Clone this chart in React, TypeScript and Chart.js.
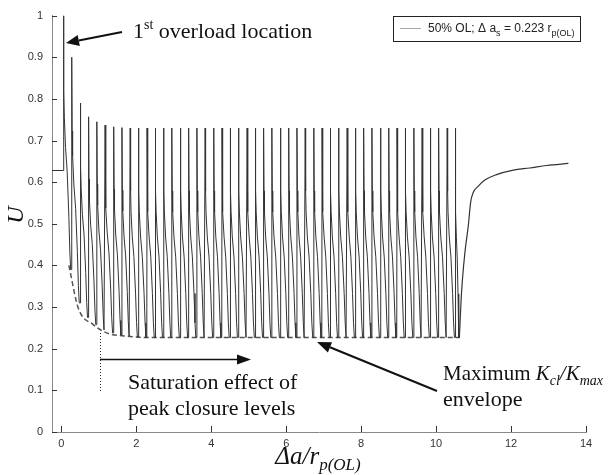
import { useEffect, useRef } from "react";
import { Chart, registerables } from "chart.js";

Chart.register(...registerables);

// ---- axis ticks ----
const xTicks = [0, 2, 4, 6, 8, 10, 12, 14];
const xTickLabels = ["0", "2", "4", "6", "8", "10", "12", "14"];
const yTicks = [0, 0.1, 0.2, 0.3, 0.4, 0.5, 0.6, 0.7, 0.8, 0.9, 1];
const yTickLabels = ["0", "0.1", "0.2", "0.3", "0.4", "0.5", "0.6", "0.7", "0.8", "0.9", "1"];

// ---- data ----
// before the first overload
const preOverloadX = [-0.25, 0.05];
const preOverloadU = [0.628, 0.628];

// overload positions (Δa/rp(OL)), spacing ≈ 0.223
const spikeX = [
  0.05, 0.27, 0.5, 0.72, 0.94, 1.16, 1.39, 1.61, 1.83, 2.05, 2.28, 2.5,
  2.72, 2.94, 3.17, 3.39, 3.61, 3.83, 4.06, 4.28, 4.5, 4.72, 4.95, 5.17,
  5.39, 5.61, 5.84, 6.06, 6.28, 6.5, 6.73, 6.95, 7.17, 7.39, 7.62, 7.84,
  8.06, 8.28, 8.51, 8.73, 8.95, 9.17, 9.4, 9.62, 9.84, 10.06, 10.29, 10.51,
];
// peak U after each overload
const spikePeakU = [
  1.0, 0.9, 0.79, 0.757, 0.745, 0.737, 0.733, 0.731, 0.73, 0.73, 0.73, 0.73,
  0.73, 0.73, 0.73, 0.73, 0.73, 0.73, 0.73, 0.73, 0.73, 0.73, 0.73, 0.73,
  0.73, 0.73, 0.73, 0.73, 0.73, 0.73, 0.73, 0.73, 0.73, 0.73, 0.73, 0.73,
  0.73, 0.73, 0.73, 0.73, 0.73, 0.73, 0.73, 0.73, 0.73, 0.73, 0.73, 0.73,
];
// minimum U reached before the next overload
const cycleTroughU = [
  0.39, 0.31, 0.275, 0.258, 0.245, 0.238, 0.233, 0.23, 0.228, 0.227, 0.227, 0.227,
  0.227, 0.227, 0.227, 0.227, 0.227, 0.227, 0.227, 0.227, 0.227, 0.227, 0.227, 0.227,
  0.227, 0.227, 0.227, 0.227, 0.227, 0.227, 0.227, 0.227, 0.227, 0.227, 0.227, 0.227,
  0.227, 0.227, 0.227, 0.227, 0.227, 0.227, 0.227, 0.227, 0.227, 0.227, 0.227, 0.226,
];
// decay shape inside one overload cycle (fraction of cycle length, fraction of peak-trough)
const cycleShapeT = [0.03, 0.08, 0.13, 0.28, 0.48, 0.68, 0.8, 0.9];
const cycleShapeF = [1.0, 0.7, 0.6, 0.48, 0.385, 0.21, 0.07, 0.0];

// recovery after the last overload
const recoveryX = [10.62, 10.68, 10.77, 10.86, 10.92, 10.99, 11.12, 11.3, 11.61, 12.06, 12.5, 12.95, 13.53];
const recoveryU = [0.226, 0.337, 0.432, 0.496, 0.551, 0.575, 0.59, 0.605, 0.618, 0.629, 0.634, 0.64, 0.645];

// maximum Kcl/Kmax envelope (dashed)
const envelopeX = [0.2, 0.45, 0.85, 1.21, 1.74, 2.3, 10.6];
const envelopeU = [0.4, 0.298, 0.258, 0.238, 0.23, 0.227, 0.227];

type Pt = { x: number; y: number };

function buildMain(): Pt[] {
  const pts: Pt[] = preOverloadX.map((x, i) => ({ x, y: preOverloadU[i] }));
  for (let k = 0; k < spikeX.length; k++) {
    const start = spikeX[k];
    const end = k < spikeX.length - 1 ? spikeX[k + 1] : recoveryX[0];
    const len = end - start;
    const peak = spikePeakU[k];
    const tr = cycleTroughU[k];
    for (let j = 0; j < cycleShapeT.length; j++) {
      pts.push({ x: start + cycleShapeT[j] * len, y: tr + cycleShapeF[j] * (peak - tr) });
    }
    if (k < spikeX.length - 1) pts.push({ x: end, y: tr });
    else pts.push({ x: recoveryX[0], y: recoveryU[0] });
  }
  return pts;
}

type Run = { t: string; font: string; dy?: number };
function drawRuns(ctx: CanvasRenderingContext2D, x: number, y: number, runs: Run[]) {
  let cx = x;
  for (const r of runs) {
    ctx.font = r.font;
    ctx.fillText(r.t, cx, y + (r.dy || 0));
    cx += ctx.measureText(r.t).width;
  }
  return cx;
}
function runsWidth(ctx: CanvasRenderingContext2D, runs: Run[]) {
  let w = 0;
  for (const r of runs) {
    ctx.font = r.font;
    w += ctx.measureText(r.t).width;
  }
  return w;
}

function arrow(ctx: CanvasRenderingContext2D, x1: number, y1: number, x2: number, y2: number, lw: number, hl: number, hw: number) {
  const a = Math.atan2(y2 - y1, x2 - x1);
  const bx = x2 - hl * Math.cos(a);
  const by = y2 - hl * Math.sin(a);
  ctx.strokeStyle = "#111";
  ctx.fillStyle = "#111";
  ctx.lineWidth = lw;
  ctx.setLineDash([]);
  ctx.beginPath();
  ctx.moveTo(x1, y1);
  ctx.lineTo(bx, by);
  ctx.stroke();
  ctx.beginPath();
  ctx.moveTo(x2, y2);
  ctx.lineTo(bx + hw * Math.sin(a), by - hw * Math.cos(a));
  ctx.lineTo(bx - hw * Math.sin(a), by + hw * Math.cos(a));
  ctx.closePath();
  ctx.fill();
}

const SERIF = "'Liberation Serif', 'DejaVu Serif', serif";
const SANS = "'Liberation Sans', Arial, sans-serif";

const decorPlugin = {
  id: "decor",
  afterDraw(chart: any) {
    const ctx: CanvasRenderingContext2D = chart.ctx;
    const xs = chart.scales.x;
    const ys = chart.scales.y;
    const area = chart.chartArea;
    ctx.save();
    // inward tick marks
    ctx.strokeStyle = "#333";
    ctx.lineWidth = 1;
    ctx.setLineDash([]);
    ctx.beginPath();
    for (const v of xTicks) {
      const px = Math.round(xs.getPixelForValue(v)) + 0.5;
      ctx.moveTo(px, area.bottom);
      ctx.lineTo(px, area.bottom - 6);
    }
    for (const v of yTicks) {
      const py = Math.round(ys.getPixelForValue(v)) + 0.5;
      ctx.moveTo(area.left, py);
      ctx.lineTo(area.left + 5, py);
    }
    ctx.stroke();

    // legend box
    ctx.fillStyle = "#fff";
    ctx.fillRect(393, 16, 187, 25);
    ctx.strokeStyle = "#222";
    ctx.lineWidth = 1;
    ctx.strokeRect(393.5, 16.5, 187, 25);
    ctx.strokeStyle = "#aaa";
    ctx.beginPath();
    ctx.moveTo(400, 28.5);
    ctx.lineTo(421, 28.5);
    ctx.stroke();
    ctx.fillStyle = "#222";
    ctx.textBaseline = "alphabetic";
    ctx.textAlign = "left";
    drawRuns(ctx, 428, 32, [
      { t: "50% OL; Δ a", font: `12px ${SANS}` },
      { t: "s", font: `9px ${SANS}`, dy: 4 },
      { t: " = 0.223 r", font: `12px ${SANS}` },
      { t: "p(OL)", font: `9px ${SANS}`, dy: 4 },
    ]);

    // annotations
    ctx.fillStyle = "#111";
    drawRuns(ctx, 133, 38, [
      { t: "1", font: `22px ${SERIF}` },
      { t: "st", font: `14px ${SERIF}`, dy: -9 },
      { t: " overload location", font: `22px ${SERIF}` },
    ]);
    arrow(ctx, 122, 32, 66, 43, 2, 13, 5.5);

    ctx.font = `22px ${SERIF}`;
    ctx.fillText("Saturation effect of", 128, 389);
    ctx.fillText("peak closure levels", 128, 415);
    arrow(ctx, 100, 359.5, 251, 359.5, 1.6, 14, 5);

    ctx.strokeStyle = "#222";
    ctx.lineWidth = 1;
    ctx.setLineDash([1, 2]);
    ctx.beginPath();
    ctx.moveTo(100.5, 333);
    ctx.lineTo(100.5, 391);
    ctx.stroke();
    ctx.setLineDash([]);

    ctx.fillStyle = "#111";
    drawRuns(ctx, 443, 380, [
      { t: "Maximum ", font: `21px ${SERIF}` },
      { t: "K", font: `italic 21px ${SERIF}` },
      { t: "cl", font: `italic 14px ${SERIF}`, dy: 5 },
      { t: "/", font: `italic 21px ${SERIF}` },
      { t: "K", font: `italic 21px ${SERIF}` },
      { t: "max", font: `italic 14px ${SERIF}`, dy: 5 },
    ]);
    ctx.font = `22px ${SERIF}`;
    ctx.fillText("envelope", 443, 406);
    arrow(ctx, 437, 391, 317, 342, 2, 14, 5.5);

    // axis titles
    const xt: Run[] = [
      { t: "Δa/r", font: `italic 25px ${SERIF}` },
      { t: "p(OL)", font: `italic 17px ${SERIF}`, dy: 6 },
    ];
    const w = runsWidth(ctx, xt);
    drawRuns(ctx, 318 - w / 2, 464, xt);

    ctx.translate(23, 215);
    ctx.rotate(-Math.PI / 2);
    ctx.font = `italic 24px ${SERIF}`;
    ctx.textAlign = "center";
    ctx.fillText("U", 0, 0);
    ctx.restore();
  },
};

export default function App() {
  const ref = useRef<HTMLCanvasElement | null>(null);
  useEffect(() => {
    if (!ref.current) return;
    const mainPts = buildMain();
    const recPts = recoveryX.map((x, i) => ({ x, y: recoveryU[i] }));
    const envPts = envelopeX.map((x, i) => ({ x, y: envelopeU[i] }));
    const chart = new Chart(ref.current, {
      type: "scatter",
      data: {
        datasets: [
          { data: mainPts, showLine: true, borderColor: "#333", borderWidth: 1, pointRadius: 0, tension: 0 },
          { data: recPts, showLine: true, borderColor: "#333", borderWidth: 1.2, pointRadius: 0, cubicInterpolationMode: "monotone" },
          { data: envPts, showLine: true, borderColor: "#555", borderWidth: 1.5, borderDash: [5, 3], pointRadius: 0, cubicInterpolationMode: "monotone" },
        ],
      } as any,
      options: {
        responsive: false,
        animation: false,
        events: [],
        layout: { padding: { top: 11, right: 24, left: 0, bottom: 0 } },
        plugins: { legend: { display: false }, tooltip: { enabled: false } },
        scales: {
          x: {
            type: "linear",
            min: -0.25,
            max: 14,
            afterBuildTicks: (s: any) => {
              s.ticks = xTicks.map((v) => ({ value: v }));
            },
            afterFit: (s: any) => {
              s.height = 43;
            },
            grid: { display: false, drawTicks: false },
            border: { display: true, color: "#888", width: 1 },
            ticks: {
              padding: 5,
              color: "#333",
              autoSkip: false,
              maxRotation: 0,
              font: { family: "'Liberation Sans', Arial, sans-serif", size: 11 },
              callback: (v: any) => {
                const i = xTicks.indexOf(Number(v));
                return i >= 0 ? xTickLabels[i] : "";
              },
            },
          },
          y: {
            type: "linear",
            min: 0,
            max: 1,
            afterBuildTicks: (s: any) => {
              s.ticks = yTicks.map((v) => ({ value: v }));
            },
            afterFit: (s: any) => {
              s.width = 52;
            },
            grid: { display: false, drawTicks: false },
            border: { display: true, color: "#888", width: 1 },
            ticks: {
              padding: 9,
              color: "#333",
              autoSkip: false,
              font: { family: "'Liberation Sans', Arial, sans-serif", size: 11 },
              callback: (v: any) => {
                const i = yTicks.findIndex((t) => Math.abs(t - Number(v)) < 1e-6);
                return i >= 0 ? yTickLabels[i] : "";
              },
            },
          },
        },
      } as any,
      plugins: [decorPlugin],
    });
    return () => chart.destroy();
  }, []);
  return (
    <div style={{ position: "absolute", left: 0, top: 0, width: 610, height: 475, background: "#fff" }}>
      <canvas ref={ref} width={610} height={475} style={{ display: "block", width: 610, height: 475 }} />
    </div>
  );
}
